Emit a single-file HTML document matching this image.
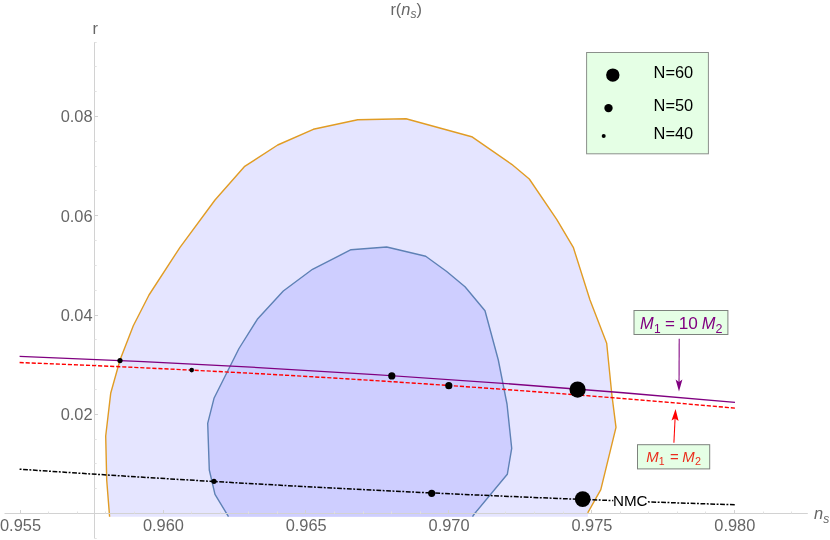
<!DOCTYPE html>
<html><head><meta charset="utf-8"><title>r(ns)</title>
<style>
html,body{margin:0;padding:0;background:#fff;}
svg{display:block;will-change:transform;font-family:"Liberation Sans",sans-serif;}
.g{fill:#666;}
</style></head><body>
<svg width="830" height="540" viewBox="0 0 830 540">
<rect width="830" height="540" fill="#fff"/>
<polygon points="109.6,516.7 106.7,480.0 105.7,436.0 110.7,393.3 120.0,360.0 133.3,325.7 149.0,295.0 180.0,247.3 215.0,200.0 244.3,166.7 277.7,145.0 313.3,129.3 357.7,119.7 406.0,118.7 471.7,136.7 511.7,164.3 529.3,179.0 556.7,219.3 573.3,247.3 590.0,300.0 606.7,343.3 611.7,393.3 616.0,427.3 600.8,489.6 587.9,512.9 587.9,516.7" fill="#e5e5ff"/>
<polygon points="228.5,516.7 215.0,494.3 209.3,470.0 207.7,423.3 214.0,398.3 239.0,348.5 257.3,319.3 283.3,291.0 312.5,269.3 351.0,249.7 386.7,247.0 425.7,256.3 446.7,271.5 465.0,286.7 485.0,310.7 498.3,360.0 507.0,404.0 511.7,448.3 507.3,474.3 474.3,514.0 472.5,516.7" fill="#ceceff"/>
<polyline points="109.6,516.7 106.7,480.0 105.7,436.0 110.7,393.3 120.0,360.0 133.3,325.7 149.0,295.0 180.0,247.3 215.0,200.0 244.3,166.7 277.7,145.0 313.3,129.3 357.7,119.7 406.0,118.7 471.7,136.7 511.7,164.3 529.3,179.0 556.7,219.3 573.3,247.3 590.0,300.0 606.7,343.3 611.7,393.3 616.0,427.3 600.8,489.6 587.7,512.9" fill="none" stroke="#e19c24" stroke-width="1.4" stroke-linejoin="round"/>
<polyline points="228.5,516.7 215.0,494.3 209.3,470.0 207.7,423.3 214.0,398.3 239.0,348.5 257.3,319.3 283.3,291.0 312.5,269.3 351.0,249.7 386.7,247.0 425.7,256.3 446.7,271.5 465.0,286.7 485.0,310.7 498.3,360.0 507.0,404.0 511.7,448.3 507.3,474.3 474.3,514.0 472.5,516.7" fill="none" stroke="#5e81b5" stroke-width="1.4" stroke-linejoin="round"/>
<g stroke="#d2d2d2" stroke-width="1" fill="none">
<line x1="4.5" y1="513.5" x2="807.8" y2="513.5"/>
<line x1="94.5" y1="42" x2="94.5" y2="538.5"/>
<line x1="20.5" y1="513.5" x2="20.5" y2="510.0"/>
<line x1="48.5" y1="513.5" x2="48.5" y2="511.5" stroke="#e2e2e2"/>
<line x1="77.5" y1="513.5" x2="77.5" y2="511.5" stroke="#e2e2e2"/>
<line x1="105.5" y1="513.5" x2="105.5" y2="511.5" stroke="#e2e2e2"/>
<line x1="134.5" y1="513.5" x2="134.5" y2="511.5" stroke="#e2e2e2"/>
<line x1="163.5" y1="513.5" x2="163.5" y2="510.0"/>
<line x1="191.5" y1="513.5" x2="191.5" y2="511.5" stroke="#e2e2e2"/>
<line x1="220.5" y1="513.5" x2="220.5" y2="511.5" stroke="#e2e2e2"/>
<line x1="248.5" y1="513.5" x2="248.5" y2="511.5" stroke="#e2e2e2"/>
<line x1="277.5" y1="513.5" x2="277.5" y2="511.5" stroke="#e2e2e2"/>
<line x1="305.5" y1="513.5" x2="305.5" y2="510.0"/>
<line x1="334.5" y1="513.5" x2="334.5" y2="511.5" stroke="#e2e2e2"/>
<line x1="363.5" y1="513.5" x2="363.5" y2="511.5" stroke="#e2e2e2"/>
<line x1="391.5" y1="513.5" x2="391.5" y2="511.5" stroke="#e2e2e2"/>
<line x1="420.5" y1="513.5" x2="420.5" y2="511.5" stroke="#e2e2e2"/>
<line x1="448.5" y1="513.5" x2="448.5" y2="510.0"/>
<line x1="477.5" y1="513.5" x2="477.5" y2="511.5" stroke="#e2e2e2"/>
<line x1="505.5" y1="513.5" x2="505.5" y2="511.5" stroke="#e2e2e2"/>
<line x1="534.5" y1="513.5" x2="534.5" y2="511.5" stroke="#e2e2e2"/>
<line x1="563.5" y1="513.5" x2="563.5" y2="511.5" stroke="#e2e2e2"/>
<line x1="591.5" y1="513.5" x2="591.5" y2="510.0"/>
<line x1="620.5" y1="513.5" x2="620.5" y2="511.5" stroke="#e2e2e2"/>
<line x1="648.5" y1="513.5" x2="648.5" y2="511.5" stroke="#e2e2e2"/>
<line x1="677.5" y1="513.5" x2="677.5" y2="511.5" stroke="#e2e2e2"/>
<line x1="705.5" y1="513.5" x2="705.5" y2="511.5" stroke="#e2e2e2"/>
<line x1="734.5" y1="513.5" x2="734.5" y2="510.0"/>
<line x1="763.5" y1="513.5" x2="763.5" y2="511.5" stroke="#e2e2e2"/>
<line x1="791.5" y1="513.5" x2="791.5" y2="511.5" stroke="#e2e2e2"/>
<line x1="94.5" y1="538.5" x2="96.7" y2="538.5" stroke="#e2e2e2"/>
<line x1="94.5" y1="513.5" x2="98.0" y2="513.5"/>
<line x1="94.5" y1="488.5" x2="96.7" y2="488.5" stroke="#e2e2e2"/>
<line x1="94.5" y1="463.5" x2="96.7" y2="463.5" stroke="#e2e2e2"/>
<line x1="94.5" y1="439.5" x2="96.7" y2="439.5" stroke="#e2e2e2"/>
<line x1="94.5" y1="414.5" x2="98.0" y2="414.5"/>
<line x1="94.5" y1="389.5" x2="96.7" y2="389.5" stroke="#e2e2e2"/>
<line x1="94.5" y1="364.5" x2="96.7" y2="364.5" stroke="#e2e2e2"/>
<line x1="94.5" y1="339.5" x2="96.7" y2="339.5" stroke="#e2e2e2"/>
<line x1="94.5" y1="315.5" x2="98.0" y2="315.5"/>
<line x1="94.5" y1="290.5" x2="96.7" y2="290.5" stroke="#e2e2e2"/>
<line x1="94.5" y1="265.5" x2="96.7" y2="265.5" stroke="#e2e2e2"/>
<line x1="94.5" y1="240.5" x2="96.7" y2="240.5" stroke="#e2e2e2"/>
<line x1="94.5" y1="215.5" x2="98.0" y2="215.5"/>
<line x1="94.5" y1="190.5" x2="96.7" y2="190.5" stroke="#e2e2e2"/>
<line x1="94.5" y1="166.5" x2="96.7" y2="166.5" stroke="#e2e2e2"/>
<line x1="94.5" y1="141.5" x2="96.7" y2="141.5" stroke="#e2e2e2"/>
<line x1="94.5" y1="116.5" x2="98.0" y2="116.5"/>
<line x1="94.5" y1="91.5" x2="96.7" y2="91.5" stroke="#e2e2e2"/>
<line x1="94.5" y1="66.5" x2="96.7" y2="66.5" stroke="#e2e2e2"/>
<line x1="94.5" y1="42.5" x2="96.7" y2="42.5" stroke="#e2e2e2"/>
</g>
<g class="g" font-size="16.4" text-anchor="middle">
<text x="20.5" y="531.0">0.955</text>
<text x="163.4" y="531.0">0.960</text>
<text x="306.2" y="531.0">0.965</text>
<text x="449.1" y="531.0">0.970</text>
<text x="591.9" y="531.0">0.975</text>
<text x="734.8" y="531.0">0.980</text>
</g>
<g class="g" font-size="16.4" text-anchor="end">
<text x="92.6" y="420.1">0.02</text>
<text x="92.6" y="320.9">0.04</text>
<text x="92.6" y="221.7">0.06</text>
<text x="92.6" y="122.4">0.08</text>
</g>
<text class="g" x="92.6" y="34.2" font-size="16.4">r</text>
<text class="g" x="390.4" y="14.7" font-size="16.4">r(<tspan font-style="italic">n</tspan><tspan font-style="italic" font-size="12" dy="3.2">s</tspan><tspan dy="-3.2">)</tspan></text>
<text class="g" x="814.0" y="519.4" font-size="16.4" font-style="italic">n<tspan font-size="12" dy="3.3">s</tspan></text>
<path d="M19.6,356.4 Q377.3,370.0 735,402.42" fill="none" stroke="#800080" stroke-width="1.35"/>
<path d="M19.6,362.55 Q377.3,376.16 735,408.14" fill="none" stroke="#ff0000" stroke-width="1.4" stroke-dasharray="4.15 1.89"/>
<path d="M19.6,469.2 Q377.3,493.62 735,504.77" fill="none" stroke="#000" stroke-width="1.5" stroke-dasharray="1.9 1.6 4.8 1.53"/>
<circle cx="120.0" cy="360.6" r="2.6" fill="#000"/>
<circle cx="191.7" cy="370.1" r="2.3" fill="#000"/>
<circle cx="214.0" cy="481.3" r="2.6" fill="#000"/>
<circle cx="391.8" cy="375.9" r="3.6" fill="#000"/>
<circle cx="448.8" cy="385.7" r="3.6" fill="#000"/>
<circle cx="431.7" cy="493.3" r="3.6" fill="#000"/>
<circle cx="577.6" cy="389.6" r="8.1" fill="#000"/>
<circle cx="582.7" cy="499.1" r="7.9" fill="#000"/>
<rect x="613.3" y="492" width="34.2" height="16" fill="#fff"/>
<text x="613.0" y="506.0" font-size="15.2" fill="#000">NMC</text>
<rect x="586.6" y="52.5" width="121.8" height="101.3" fill="#e5ffe5" stroke="#8b908b" stroke-width="1"/>
<circle cx="612.8" cy="75.1" r="6.7" fill="#000"/>
<circle cx="608.5" cy="108.1" r="4.2" fill="#000"/>
<circle cx="603.7" cy="136.0" r="2.0" fill="#000"/>
<text x="653.6" y="78.0" font-size="16.4" fill="#000">N=60</text>
<text x="653.6" y="111.0" font-size="16.4" fill="#000">N=50</text>
<text x="653.6" y="139.4" font-size="16.4" fill="#000">N=40</text>
<rect x="634.0" y="310.5" width="93.9" height="24.0" fill="#e5ffe5" stroke="#7d827d" stroke-width="1"/>
<g fill="#800080" font-size="16.4"><text x="639.9" y="329.3" font-style="italic">M</text><text x="653.9" y="332.6" font-size="12">1</text><text x="665.0" y="329.3" font-size="17">=</text><text x="678.8" y="329.3" font-size="17.2">10</text><text x="701.7" y="329.3" font-style="italic">M</text><text x="715.4" y="332.6" font-size="12.5">2</text></g>
<line x1="679.2" y1="338.8" x2="679.05" y2="383" stroke="#800080" stroke-width="1.05"/>
<path d="M679,391.4 L675.6,379.5 L679,381.9 L682.4,379.5 Z" fill="#800080"/>
<rect x="637.5" y="444.7" width="72.2" height="24.2" fill="#e5ffe5" stroke="#7d827d" stroke-width="1"/>
<g fill="#ea2c1c" font-size="14.9"><text x="646.3" y="461.6" font-style="italic">M</text><text x="658.8" y="464.5" font-size="10.5">1</text><text x="670.0" y="462.2">=</text><text x="682.3" y="461.6" font-style="italic">M</text><text x="694.9" y="464.5" font-size="10.8">2</text></g>
<line x1="673.9" y1="442.7" x2="675.1" y2="418" stroke="#ff0000" stroke-width="1.05"/>
<path d="M675.55,409.0 L678.6,421.0 L675.0,418.6 L671.5,420.6 Z" fill="#ff0000"/>
</svg>
</body></html>
